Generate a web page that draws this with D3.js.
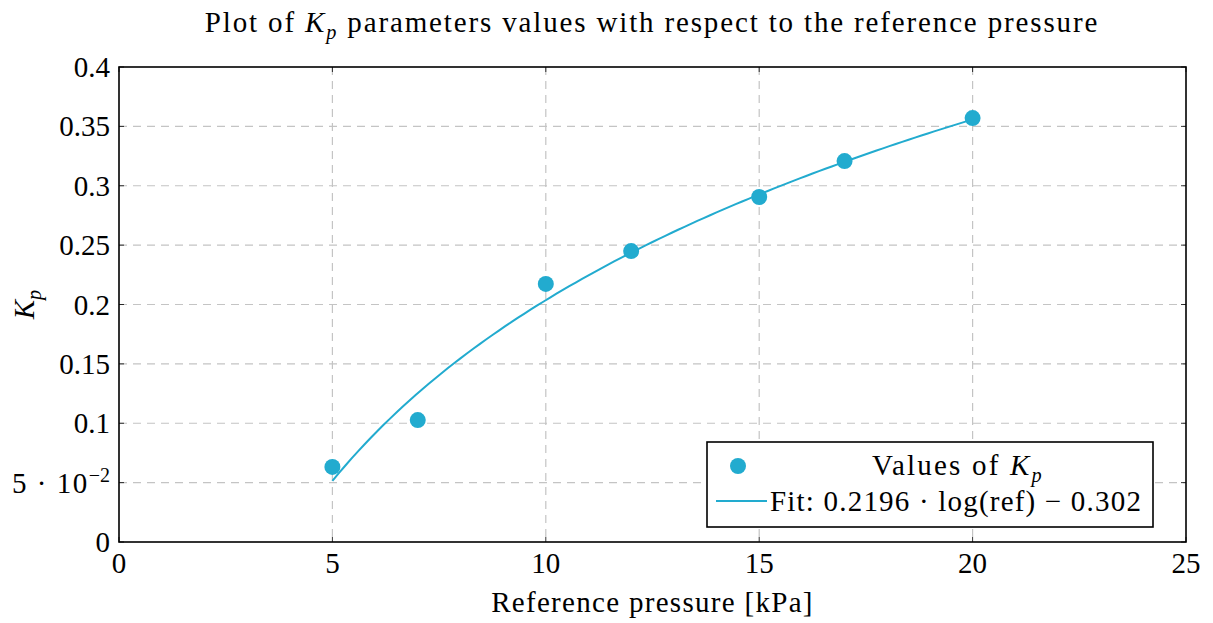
<!DOCTYPE html>
<html>
<head>
<meta charset="utf-8">
<script src="https://cdn.jsdelivr.net/npm/d3@7"></script>
<style>
  html, body { margin: 0; padding: 0; background: #fff; }
  svg text { font-family: "Liberation Serif", "DejaVu Serif", serif; fill: #000; }
</style>
</head>
<body>
<svg id="chart" width="1213" height="623"></svg>
<script>
// Measured K_p values at each reference pressure [kPa]
const pressures = [5, 7, 10, 12, 15, 17, 20];
const kpValues = [0.0632, 0.1027, 0.2173, 0.245, 0.2905, 0.3208, 0.357];

// Logarithmic fit: a * ln(ref) + b, evaluated over the measured range
const fitA = 0.2196;
const fitB = -0.302;
const fitRange = [5, 20];

// Axis ticks
const xTicks = [0, 5, 10, 15, 20, 25];
const yTicks = [0, 0.05, 0.1, 0.15, 0.2, 0.25, 0.3, 0.35, 0.4];
const yTickLabels = ["0", "5e-2", "0.1", "0.15", "0.2", "0.25", "0.3", "0.35", "0.4"];

const color = "#22abcf";
const svg = d3.select("#chart");
const m = { left: 119, right: 1186, top: 67, bottom: 542 };

const x = d3.scaleLinear().domain([0, 25]).range([m.left, m.right]);
const y = d3.scaleLinear().domain([0, 0.4]).range([m.bottom, m.top]);

// grid
const grid = svg.append("g")
  .attr("stroke", "#c4c4c4").attr("stroke-width", 1.2).attr("stroke-dasharray", "8,6");
grid.selectAll("line.v").data(xTicks.slice(1, -1)).join("line")
  .attr("x1", d => x(d)).attr("x2", d => x(d)).attr("y1", m.top).attr("y2", m.bottom);
grid.selectAll("line.h").data(yTicks.slice(1, -1)).join("line")
  .attr("y1", d => y(d)).attr("y2", d => y(d)).attr("x1", m.left).attr("x2", m.right);

// inward ticks on all four sides
const tk = 5;
const ticks = svg.append("g").attr("stroke", "#000").attr("stroke-width", 0.8);
xTicks.forEach(d => {
  ticks.append("line").attr("x1", x(d)).attr("x2", x(d)).attr("y1", m.bottom).attr("y2", m.bottom - tk);
  ticks.append("line").attr("x1", x(d)).attr("x2", x(d)).attr("y1", m.top).attr("y2", m.top + tk);
});
yTicks.forEach(d => {
  ticks.append("line").attr("y1", y(d)).attr("y2", y(d)).attr("x1", m.left).attr("x2", m.left + tk);
  ticks.append("line").attr("y1", y(d)).attr("y2", y(d)).attr("x1", m.right).attr("x2", m.right - tk);
});

// fit curve
const fitPts = d3.range(0, 101).map(i => {
  const p = fitRange[0] + (fitRange[1] - fitRange[0]) * i / 100;
  return [p, fitA * Math.log(p) + fitB];
});
svg.append("path").datum(fitPts)
  .attr("fill", "none").attr("stroke", color).attr("stroke-width", 2)
  .attr("d", d3.line().x(d => x(d[0])).y(d => y(d[1])));

// data points
svg.selectAll("circle.pt").data(pressures).join("circle")
  .attr("cx", d => x(d)).attr("cy", (d, i) => y(kpValues[i])).attr("r", 8).attr("fill", color);

// frame
svg.append("rect").attr("x", m.left).attr("y", m.top)
  .attr("width", m.right - m.left).attr("height", m.bottom - m.top)
  .attr("fill", "none").attr("stroke", "#000").attr("stroke-width", 1.6);

const fs = 29;
const ls = 1.3;
// x tick labels
svg.append("g").selectAll("text").data(xTicks).join("text")
  .attr("x", d => x(d)).attr("y", m.bottom + 31).attr("text-anchor", "middle")
  .attr("font-size", fs).text(d => d);

// y tick labels
const yl = svg.append("g");
yTicks.forEach((d, i) => {
  const t = yl.append("text").attr("x", m.left - 9).attr("y", y(d) + 10)
    .attr("text-anchor", "end").attr("font-size", fs);
  if (yTickLabels[i] === "5e-2") {
    t.append("tspan").attr("letter-spacing", 1.5).text("5 \u00B7 10");
    t.append("tspan").attr("font-size", 20).attr("dy", -11).text("\u22122");
  } else {
    t.text(yTickLabels[i]);
  }
});

// math K_p helper
function kp(sel, size) {
  sel.append("tspan").attr("font-style", "italic").text("K");
  sel.append("tspan").attr("font-style", "italic").attr("font-size", size * 0.7).attr("dy", size * 0.25).text("p");
}

// title
const title = svg.append("text").attr("x", 652).attr("y", 32).attr("text-anchor", "middle")
  .attr("font-size", fs).attr("letter-spacing", 1.85);
title.append("tspan").text("Plot of ");
kp(title, fs);
title.append("tspan").attr("dy", -fs * 0.25).text(" parameters values with respect to the reference pressure");

// x label
svg.append("text").attr("x", x(12.5)).attr("y", 612).attr("text-anchor", "middle")
  .attr("font-size", fs).attr("letter-spacing", ls).text("Reference pressure [kPa]");

// y label
const ylab = svg.append("text").attr("transform", `translate(34,${y(0.2)}) rotate(-90)`)
  .attr("text-anchor", "middle").attr("font-size", fs);
kp(ylab, fs);

// legend
const lg = { x: 707, y: 442, w: 446, h: 85 };
svg.append("rect").attr("x", lg.x).attr("y", lg.y).attr("width", lg.w).attr("height", lg.h)
  .attr("fill", "#fff").attr("stroke", "#000").attr("stroke-width", 1.6);
svg.append("circle").attr("cx", lg.x + 31).attr("cy", lg.y + 24).attr("r", 8).attr("fill", color);
svg.append("line").attr("x1", lg.x + 9).attr("x2", lg.x + 60).attr("y1", lg.y + 59).attr("y2", lg.y + 59)
  .attr("stroke", color).attr("stroke-width", 2);
const l1 = svg.append("text").attr("x", 958).attr("y", lg.y + 33).attr("text-anchor", "middle")
  .attr("font-size", fs).attr("letter-spacing", 2.2);
l1.append("tspan").text("Values of ");
kp(l1, fs);
svg.append("text").attr("x", lg.x + 63).attr("y", lg.y + 69).attr("font-size", fs).attr("letter-spacing", 1.2)
  .text("Fit:  0.2196 \u00B7 log(ref) \u2212 0.302");
</script>
</body>
</html>
